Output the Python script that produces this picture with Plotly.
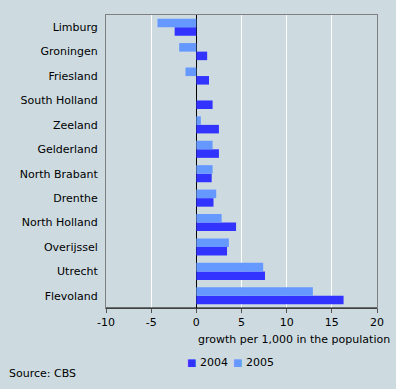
import plotly.graph_objects as go

provinces = ["Limburg", "Groningen", "Friesland", "South Holland", "Zeeland",
             "Gelderland", "North Brabant", "Drenthe", "North Holland",
             "Overijssel", "Utrecht", "Flevoland"]
growth_2004 = [-2.4, 1.2, 1.4, 1.8, 2.5, 2.5, 1.7, 1.9, 4.4, 3.4, 7.6, 16.3]
growth_2005 = [-4.3, -1.9, -1.2, 0.0, 0.5, 1.8, 1.8, 2.2, 2.8, 3.6, 7.4, 12.9]
x_ticks = [-10, -5, 0, 5, 10, 15, 20]
series_names = ["2004", "2005"]
series_colors = ["#3333ff", "#6699ff"]

FONT = "DejaVu Sans"
BG = "#cddbe0"

fig = go.Figure()
for name, vals, col in zip(series_names, [growth_2004, growth_2005], series_colors):
    fig.add_trace(go.Bar(y=provinces, x=vals, name=name, orientation="h",
                         marker=dict(color=col, line=dict(width=0))))

legend_text = "&nbsp;<span style='font-size:5px'>&nbsp;</span>".join(
    f"<span style='color:{c};font-size:10px'>■</span>&nbsp;{n}"
    for n, c in zip(series_names, series_colors))

fig.update_layout(
    width=396, height=389,
    paper_bgcolor=BG, plot_bgcolor=BG,
    margin=dict(l=106, r=15, t=15, b=81),
    barmode="group", bargap=0.3, bargroupgap=0,
    font=dict(family=FONT, size=11, color="#000000"),
    showlegend=False,
    xaxis=dict(range=[-10, 20], tickvals=x_ticks, ticktext=[str(v) for v in x_ticks],
               showgrid=True, gridcolor="#ffffff", gridwidth=1,
               zeroline=True, zerolinecolor="#000000", zerolinewidth=1,
               showline=True, linecolor="#808080", linewidth=1, mirror=True,
               ticks="outside", ticklen=4, tickcolor="#555555",
               tickfont=dict(size=11)),
    yaxis=dict(categoryorder="array", categoryarray=provinces[::-1],
               showgrid=False, zeroline=False,
               showline=True, linecolor="#808080", linewidth=1, mirror=True,
               ticks="", ticklabelstandoff=5, tickfont=dict(size=11)),
    annotations=[
        dict(text="growth per 1,000 in the population", xref="paper", yref="paper",
             x=1.055, y=-0.078, xanchor="right", yanchor="top", showarrow=False,
             font=dict(size=11)),
        dict(text=legend_text, xref="paper", yref="paper", x=0.293, y=-0.158,
             xanchor="left", yanchor="top", showarrow=False, font=dict(size=11)),
        dict(text="Source: CBS", xref="paper", x=-0.366, yref="paper", y=-0.195,
             xanchor="left", yanchor="top", showarrow=False, font=dict(size=11)),
    ],
    shapes=[dict(type="line", xref="paper", yref="paper", x0=0, x1=1, y0=0, y1=0,
                 line=dict(color="#000000", width=1))],
)

fig.write_html("out.html", config={"displayModeBar": False},
               post_script="document.body.style.margin='0';")
